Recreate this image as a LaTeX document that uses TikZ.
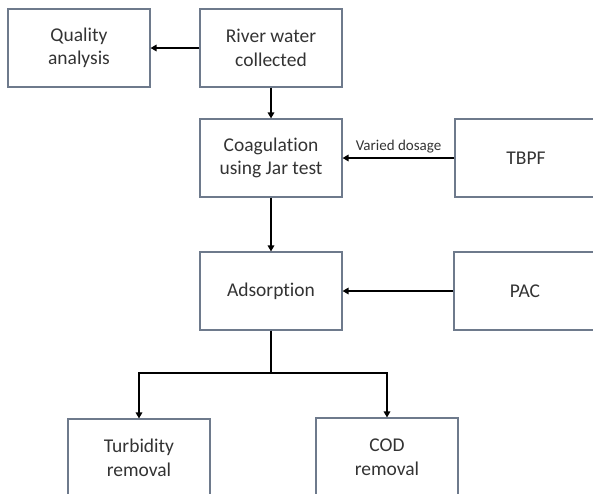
\documentclass[tikz,border=0pt]{standalone}
\usepackage{fontspec}
\setmainfont{Carlito}[Ligatures=NoCommon]
\usetikzlibrary{arrows.meta}
\usetikzlibrary{shapes}

\begin{document}
\begin{tikzpicture}[x = 1pt, y = -1pt]
\tikzstyle{StepStyle}=[shape = rectangle,
                         draw = boxline,
                         line width = 1.1pt,
                         minimum width = 142pt,
                         minimum height = 78pt,
                         align = center,
                         font = \fontsize{19.5}{23.5}\selectfont,
                         text = black!80]
\tikzstyle{FlowStyle}=[draw, line width = 2pt, >={Triangle[length = 6pt, width = 6.5pt]}]
\definecolor{boxline}{RGB}{110,122,140}
\useasboundingbox (0,0) rectangle (593,493);
\clip (0,0) rectangle (593,493);
\node[StepStyle] (quality) at (79, 48) {Quality\\analysis};
\node[StepStyle] (river) at (271, 48) {River water\\collected};
\node[StepStyle] (coag) at (271, 158) {Coagulation\\using Jar test};
\node[StepStyle] (tbpf) at (526, 158) {TBPF};
\node[StepStyle] (ads) at (271, 291) {Adsorption};
\node[StepStyle] (pac) at (525, 291) {PAC};
\node[StepStyle] (turb) at (139, 458) {Turbidity\\removal};
\node[StepStyle] (cod) at (387, 457) {COD\\removal};
\coordinate (split) at (271, 373);
\draw[FlowStyle, ->] (river) -- (quality);
\draw[FlowStyle, ->] (river) -- (coag);
\draw[FlowStyle, ->] (tbpf) -- node[above = 1pt, font = \fontsize{15}{18}\selectfont, text = black!80] (dosage) {Varied dosage} (coag);
\draw[FlowStyle, ->] (coag) -- (ads);
\draw[FlowStyle, ->] (pac) -- (ads);
\draw[FlowStyle] (ads) -- (split);
\draw[FlowStyle, ->] (split) -| (turb);
\draw[FlowStyle, ->] (split) -| (cod);
\end{tikzpicture}
\end{document}
